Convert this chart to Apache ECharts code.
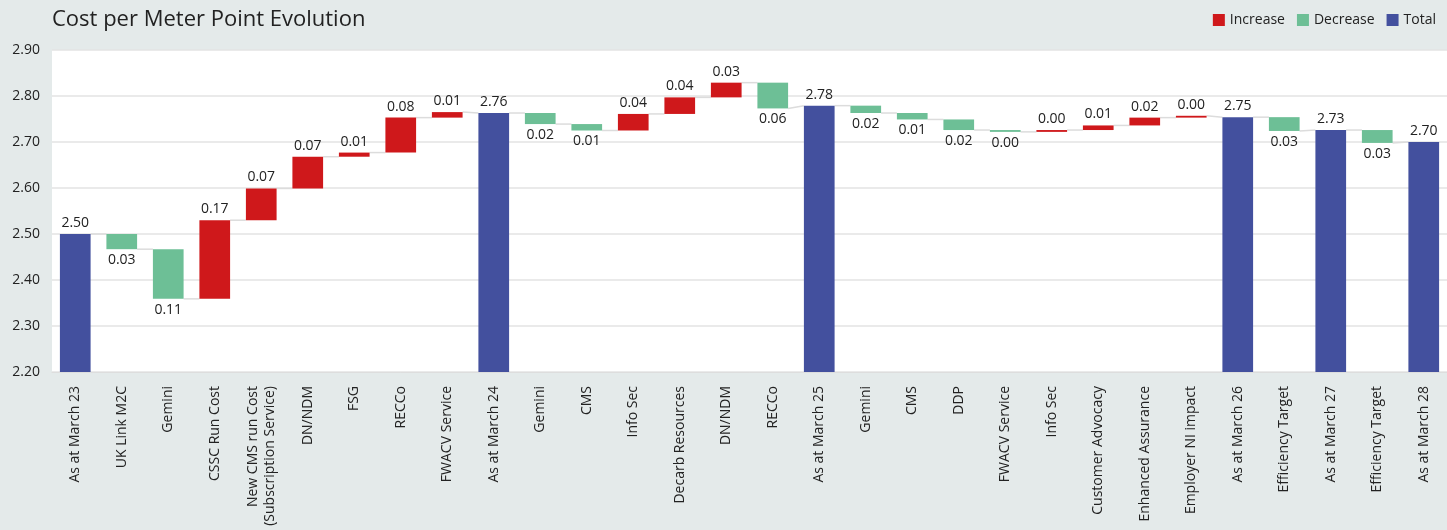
<!DOCTYPE html>
<html>
<head>
<meta charset="utf-8">
<script src="https://cdn.jsdelivr.net/npm/echarts@6/dist/echarts.min.js"></script>
<style>
html,body{margin:0;padding:0;background:#e4eaea;}
#chart{width:1447px;height:530px;}
</style>
</head>
<body>
<div id="chart"></div>
<script>
const categories = [
  'As at March 23','UK Link M2C','Gemini','CSSC Run Cost','New CMS run Cost\n(Subscription Service)','DN/NDM','FSG','RECCo','FWACV Service',
  'As at March 24','Gemini','CMS','Info Sec','Decarb Resources','DN/NDM','RECCo',
  'As at March 25','Gemini','CMS','DDP','FWACV Service','Info Sec','Customer Advocacy','Enhanced Assurance','Employer NI impact',
  'As at March 26','Efficiency Target','As at March 27','Efficiency Target','As at March 28'
];
// 'T' = total bar (value is the level), 'D' = change (value is the delta)
const kinds = [
  'T','D','D','D','D','D','D','D','D',
  'T','D','D','D','D','D','D',
  'T','D','D','D','D','D','D','D','D',
  'T','D','T','D','T'
];
const values = [
  2.500,-0.033,-0.108,0.171,0.069,0.069,0.009,0.076,0.012,
  2.763,-0.024,-0.014,0.036,0.036,0.032,-0.056,
  2.779,-0.016,-0.014,-0.023,-0.004,0.004,0.010,0.017,0.004,
  2.754,-0.030,2.726,-0.028,2.700
];
const yTicks = {min:2.2, max:2.9, interval:0.1};

// derive bar geometry (start/end levels) from the values
const starts = [], ends = [];
let level = 0;
values.forEach((v,i)=>{
  if (kinds[i]==='T'){ starts.push(0); ends.push(v); level = v; }
  else { starts.push(level); level = level + v; ends.push(level); }
});
const baseData = values.map((v,i)=> kinds[i]==='T' ? 0 : Math.min(starts[i],ends[i]));
const incData = values.map((v,i)=> kinds[i]==='D' && v>=0 ? v : '-');
const decData = values.map((v,i)=> kinds[i]==='D' && v<0 ? -v : '-');
const totData = values.map((v,i)=> kinds[i]==='T' ? v : '-');
const connData = [];
for (let i=0;i<values.length-1;i++){
  const from = ends[i];
  const to = kinds[i+1]==='T' ? values[i+1] : starts[i+1];
  connData.push([i, from, to]);
}

const FONT = 'Open Sans';
const txt = '#222';
const chart = echarts.init(document.getElementById('chart'));
const fmt = p => (Math.abs(p.value)+1e-9).toFixed(2);
chart.setOption({
  backgroundColor:'#e4eaea',
  animation:false,
  textStyle:{fontFamily:FONT},
  title:{text:'Cost per Meter Point Evolution', left:47, top:4,
    textStyle:{fontFamily:FONT, fontSize:22, fontWeight:'normal', color:'#222'}},
  legend:{right:6, top:8, itemWidth:12, itemHeight:12, itemGap:12, icon:'rect',
    data:['Increase','Decrease','Total'],
    textStyle:{fontFamily:FONT, fontSize:14, color:txt}},
  grid:{left:52, right:0, top:50, bottom:158, show:true, backgroundColor:'#ffffff', borderWidth:0,
    containLabel:false, outerBoundsMode:'none'},
  xAxis:{type:'category', data:categories,
    axisTick:{show:false},
    axisLine:{lineStyle:{color:'#dddddd'}},
    axisLabel:{interval:0, rotate:90, margin:14, fontFamily:FONT, fontSize:14, color:txt, lineHeight:17}},
  yAxis:{type:'value', min:yTicks.min, max:yTicks.max, interval:yTicks.interval,
    axisLine:{show:false}, axisTick:{show:false},
    splitLine:{lineStyle:{color:'#e3e3e3', width:1.5}},
    axisLabel:{formatter:v=>v.toFixed(2), fontFamily:FONT, fontSize:14, color:txt, margin:12}},
  series:[
    {name:'base', type:'bar', stack:'wf', data:baseData, barWidth:'66%', silent:true,
      itemStyle:{color:'rgba(0,0,0,0)'}},
    {name:'Increase', type:'bar', stack:'wf', data:incData, itemStyle:{color:'#cf181b'},
      label:{show:true, position:'top', distance:4, formatter:fmt, fontFamily:FONT, fontSize:14, color:txt}},
    {name:'Decrease', type:'bar', stack:'wf', data:decData, itemStyle:{color:'#6dbf96'},
      label:{show:true, position:'bottom', distance:4, formatter:fmt, fontFamily:FONT, fontSize:14, color:txt}},
    {name:'Total', type:'bar', stack:'wf', data:totData, itemStyle:{color:'#43509e'},
      label:{show:true, position:'top', distance:4, formatter:fmt, fontFamily:FONT, fontSize:14, color:txt}},
    {name:'conn', type:'custom', silent:true, z:1, data:connData,
      renderItem:(params, api)=>{
        const i = api.value(0);
        const p1 = api.coord([i, api.value(1)]);
        const p2 = api.coord([i+1, api.value(2)]);
        const half = api.size([1,0])[0]*0.33;
        return {type:'line', shape:{x1:p1[0]+half, y1:p1[1], x2:p2[0]-half, y2:p2[1]},
          style:{stroke:'#dcdcdc', lineWidth:1.5}};
      }}
  ]
});
</script>
</body>
</html>
